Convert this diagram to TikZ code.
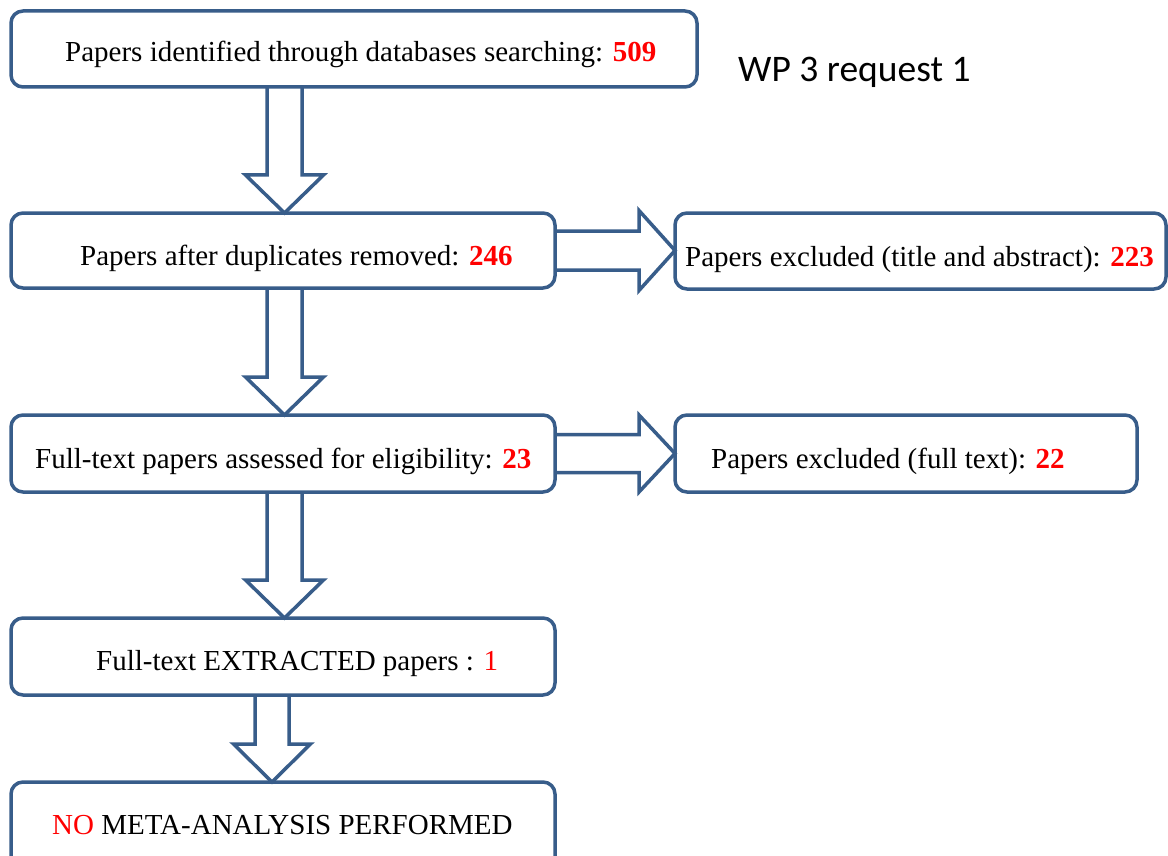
\documentclass[tikz,border=0pt]{standalone}
\usepackage{fontspec}
\setmainfont{Liberation Serif}
\newfontfamily\headfont{Carlito}
\usetikzlibrary{calc,backgrounds}
\definecolor{outline}{HTML}{385D8A}
\definecolor{num}{RGB}{255,0,0}

% hollow block arrow pointing down, from the bottom of one box to the top of the next
% #1 from node, #2 to node, #3 centre x, #4 shaft half width, #5 head half width
\newcommand\downblock[5]{%
  \path[blockarrow] let \p1=(#1.south), \p2=(#2.north) in
    (#3pt-#4pt,\y1) -- (#3pt-#4pt,\y2+38pt) -- (#3pt-#5pt,\y2+38pt) -- (#3pt,\y2)
    -- (#3pt+#5pt,\y2+38pt) -- (#3pt+#4pt,\y2+38pt) -- (#3pt+#4pt,\y1);}

% hollow block arrow pointing right
% #1 from node, #2 to node, #3 shaft half height, #4 head half height
\newcommand\rightblock[4]{%
  \path[blockarrow] let \p1=(#1.east), \p2=(#2.west) in
    (\x1,\y1+#3pt) -- (\x2-36pt,\y1+#3pt) -- (\x2-36pt,\y1+#4pt) -- (\x2,\y1)
    -- (\x2-36pt,\y1-#4pt) -- (\x2-36pt,\y1-#3pt) -- (\x1,\y1-#3pt);}

\newcommand\rednum[1]{\textbf{\color{num}#1}}

\begin{document}
\begin{tikzpicture}[x=1pt,y=-1pt,
  box/.style={rectangle, draw=outline, line width=3.5pt, rounded corners=12pt,
    inner sep=0pt, outer sep=0pt},
  txt/.style={anchor=base west, inner sep=0pt, font=\fontsize{29}{34}\selectfont},
  blockarrow/.style={draw=outline, line width=3.5pt, fill=white, line join=miter}]

\useasboundingbox (0,0) rectangle (1168,856);
\clip (0,0) rectangle (1168,856);

% boxes
\node[box, minimum width=686pt, minimum height=76pt] (b1) at (354,49) {};
\node[box, minimum width=544pt, minimum height=75pt] (b2) at (283,250.5) {};
\node[box, minimum width=491pt, minimum height=76pt] (b3) at (920.5,251) {};
\node[box, minimum width=544pt, minimum height=77pt] (b4) at (283,453.5) {};
\node[box, minimum width=462pt, minimum height=77pt] (b5) at (906,453.5) {};
\node[box, minimum width=544pt, minimum height=77pt] (b6) at (283,656.5) {};
\node[box, minimum width=544pt, minimum height=88pt] (b7) at (283,826) {};

% texts
\node[txt] (t1) at (65,62) {Papers identified through databases searching: \rednum{509}};
\node[txt] (t2) at (80,265) {Papers after duplicates removed: \rednum{246}};
\node[txt] (t3) at (685,266) {Papers excluded (title and abstract): \rednum{223}};
\node[txt] (t4) at (35,468) {Full-text papers assessed for eligibility: \rednum{23}};
\node[txt] (t5) at (711,468) {Papers excluded (full text): \rednum{22}};
\node[txt] (t6) at (96,670) {Full-text EXTRACTED papers : {\color{num}1}};
\node[txt] (t7) at (52,834) {{\color{num}NO} META-ANALYSIS PERFORMED};
\node[anchor=base west, inner sep=0pt, font=\headfont\fontsize{37.5}{44}\selectfont]
  (wp) at (738,82) {WP 3 request 1};

\begin{pgfonlayer}{background}
  \fill[white] (0,0) rectangle (1168,856);
  \downblock{b1}{b2}{284.5}{17.5}{39}
  \downblock{b2}{b4}{284.5}{17.5}{39}
  \downblock{b4}{b6}{284.5}{17.5}{39}
  \downblock{b6}{b7}{272}{17}{38.5}
  \rightblock{b2}{b3}{19.5}{40}
  \rightblock{b4}{b5}{19}{38.5}
\end{pgfonlayer}
\end{tikzpicture}
\end{document}
